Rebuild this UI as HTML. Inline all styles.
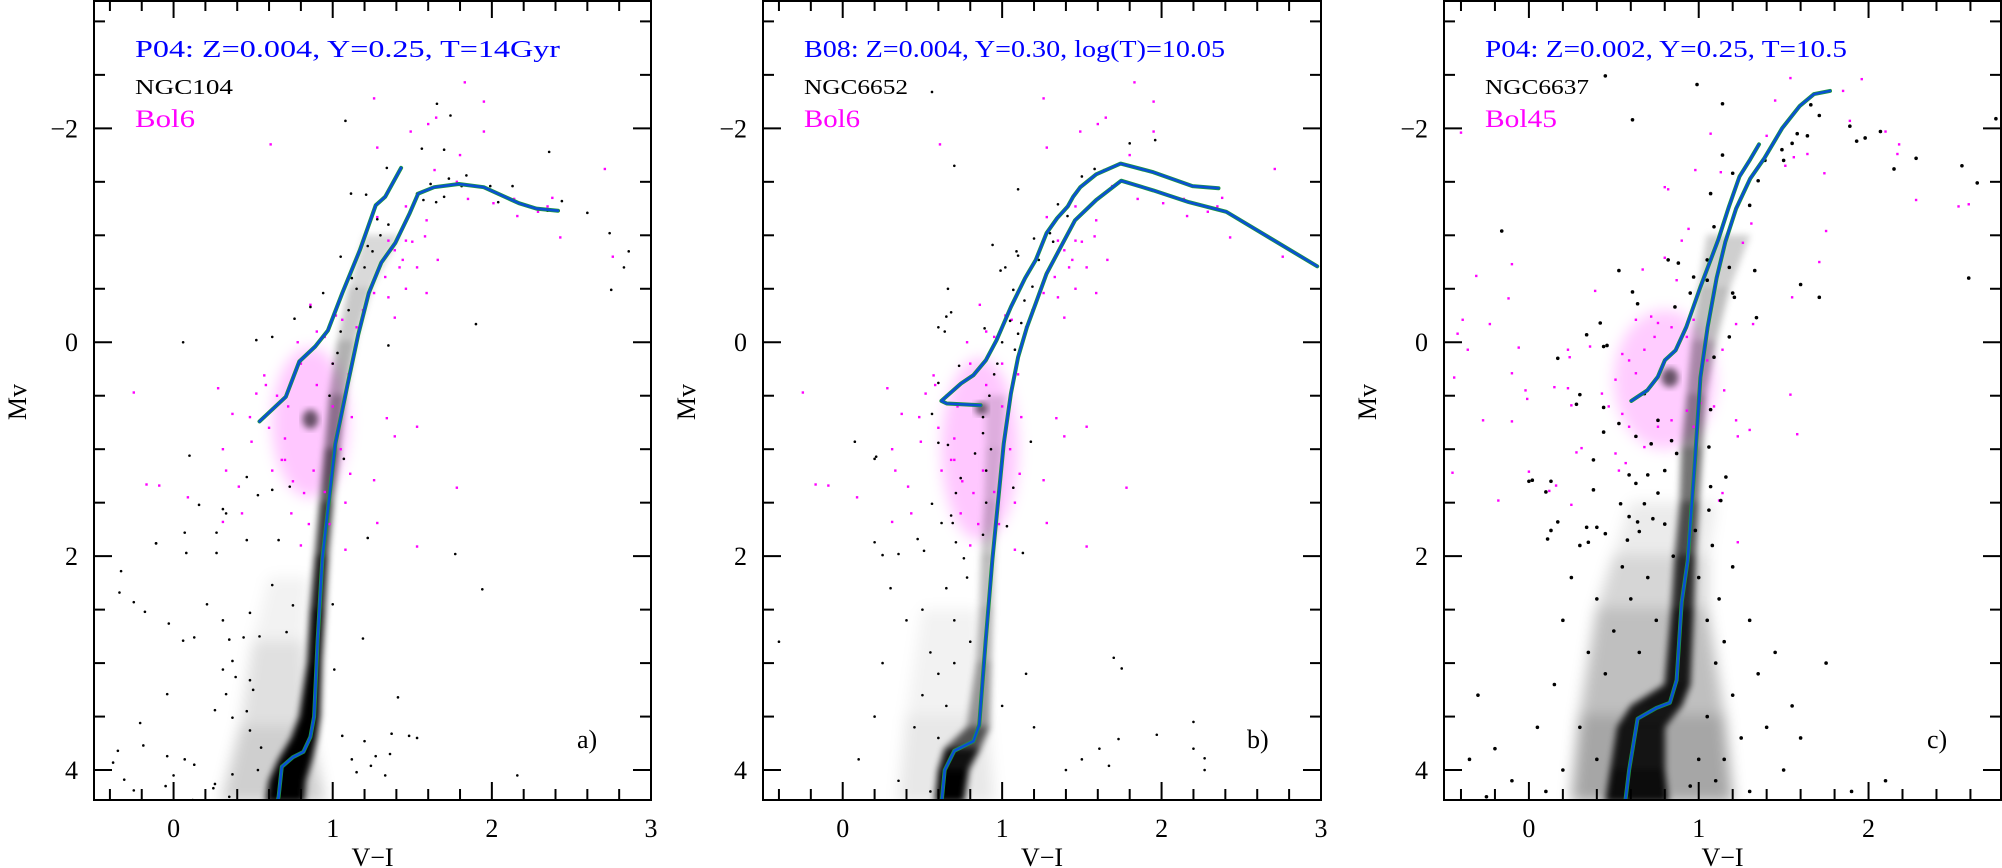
<!DOCTYPE html>
<html><head><meta charset="utf-8"><style>
html,body{margin:0;padding:0;background:#fff;}
svg{display:block;font-family:"Liberation Serif","DejaVu Serif",serif;}
</style></head><body>
<svg id="fig" width="2002" height="868" viewBox="0 0 2002 868" xmlns="http://www.w3.org/2000/svg">
<defs><filter id="soft" x="-20%" y="-20%" width="140%" height="140%"><feGaussianBlur stdDeviation="3.5"/></filter>
<filter id="soft2" x="-20%" y="-20%" width="140%" height="140%"><feGaussianBlur stdDeviation="7"/></filter></defs>
</svg>
<script>
// ---------- DATA (V-I colour, Mv) ----------
const isoA_upper=[[0.54,0.74],[0.705,0.51],[0.79,0.18],[0.89,0.04],[0.97,-0.11],[1.06,-0.46],[1.17,-0.86],[1.27,-1.28],[1.33,-1.36],[1.43,-1.63]];
const isoA_rgb=[[0.655,4.28],[0.66,4.25],[0.68,3.97],[0.75,3.88],[0.816,3.83],[0.86,3.69],[0.883,3.5],[0.905,2.79],[0.935,2.02],[1.016,0.95],[1.094,0.39],[1.16,-0.07],[1.227,-0.46],[1.305,-0.745],[1.394,-0.93],[1.482,-1.2],[1.537,-1.39],[1.637,-1.45],[1.793,-1.48],[1.949,-1.45],[2.17,-1.3],[2.28,-1.25],[2.415,-1.23]];
const isoB_upper=[[0.865,0.59],[0.652,0.573],[0.619,0.548],[0.742,0.386],[0.82,0.308],[0.898,0.168],[0.965,-0.02],[1.055,-0.33],[1.144,-0.6],[1.211,-0.77],[1.278,-1.02],[1.345,-1.16],[1.412,-1.27],[1.445,-1.36],[1.49,-1.45],[1.59,-1.57],[1.743,-1.67],[1.948,-1.59],[2.194,-1.46],[2.357,-1.44]];
const isoB_rgb=[[0.62,4.3],[0.64,4.0],[0.7,3.82],[0.82,3.73],[0.856,3.58],[0.896,2.8],[0.938,2.04],[1.01,0.95],[1.055,0.48],[1.1,0.14],[1.155,-0.14],[1.21,-0.36],[1.278,-0.64],[1.367,-0.89],[1.457,-1.14],[1.59,-1.33],[1.747,-1.51],[1.948,-1.42],[2.17,-1.31],[2.406,-1.22],[2.663,-0.99],[2.976,-0.71]];
const isoC_upper=[[0.603,0.548],[0.697,0.449],[0.759,0.324],[0.801,0.168],[0.864,0.075],[0.927,-0.143],[1.01,-0.517],[1.115,-0.96],[1.178,-1.27],[1.24,-1.55],[1.303,-1.71],[1.355,-1.85]];
const isoC_rgb=[[0.567,4.3],[0.59,4.0],[0.64,3.52],[0.75,3.42],[0.83,3.37],[0.87,3.16],[0.9,2.43],[0.935,2.04],[0.978,1.1],[1.01,0.33],[1.052,-0.14],[1.105,-0.6],[1.157,-0.94],[1.22,-1.25],[1.303,-1.53],[1.386,-1.72],[1.491,-2.0],[1.595,-2.21],[1.679,-2.32],[1.773,-2.35]];

// dense sequence bands: [Mv, left colour, right colour, density]
const ridgeA=[[4.3,0.58,0.82,1],[4.1,0.6,0.83,1],[3.9,0.66,0.87,1],[3.7,0.74,0.9,1],[3.5,0.79,0.92,1],[3.0,0.84,0.93,1],[2.5,0.86,0.95,0.95],[2.0,0.89,0.97,0.85],[1.5,0.92,1.0,0.7],[1.0,0.95,1.04,0.55],[0.5,0.98,1.08,0.35],[0.0,1.03,1.14,0.25],[-0.5,1.1,1.24,0.18],[-1.0,1.2,1.42,0.12]];
const hazeA=[[4.3,0.3,0.95,0.22],[3.6,0.42,0.85,0.16],[2.8,0.5,0.82,0.07],[2.2,0.6,0.85,0.02]];
const ridgeB=[[4.3,0.58,0.76,1],[4.0,0.6,0.79,1],[3.8,0.64,0.86,0.85],[3.6,0.78,0.92,0.45],[3.0,0.84,0.93,0.32],[2.5,0.86,0.94,0.28],[2.0,0.87,0.95,0.24],[1.5,0.89,0.97,0.2],[1.0,0.9,1.0,0.15],[0.5,0.9,1.02,0.1]];
const hazeB=[[4.3,0.35,0.95,0.1],[3.5,0.4,0.9,0.07],[2.5,0.5,0.85,0.03]];
const ridgeC=[[4.3,0.45,0.82,0.95],[4.0,0.48,0.8,0.9],[3.6,0.52,0.8,0.85],[3.4,0.6,0.9,0.9],[3.2,0.8,0.95,0.9],[2.5,0.84,0.97,0.85],[2.0,0.86,0.98,0.75],[1.5,0.89,1.0,0.6],[1.0,0.9,1.02,0.5],[0.5,0.93,1.04,0.4],[0.0,0.96,1.1,0.28],[-0.5,1.0,1.18,0.22],[-1.0,1.05,1.3,0.16]];
const hazeC=[[4.3,0.25,1.2,0.4],[3.5,0.3,1.15,0.3],[2.5,0.4,1.05,0.2],[2.0,0.5,1.05,0.12],[1.5,0.6,1.1,0.05]];

// clumps: [colour, Mv, radius colour, radius Mv, opacity]
const clumpA=[[0.86,0.72,0.05,0.09,0.6]];
const clumpB=[[0.87,0.62,0.04,0.06,0.6]];
const clumpC=[[0.83,0.33,0.05,0.09,0.6]];
const cloudA=[[0.86,0.75,0.24,0.7,0.22]];
const cloudB=[[0.86,1.0,0.24,0.85,0.22]];
const cloudC=[[0.8,0.35,0.3,0.65,0.2]];

const starsA=[[0.06,0.0],[1.08,-2.07],[1.655,-2.23],[1.74,-2.12],[1.56,-1.81],[1.70,-1.80],[2.36,-1.78],[1.34,-1.63],[1.115,-1.39],[1.21,-1.38],[1.615,-1.48],[1.73,-1.53],[1.84,-1.56],[1.99,-1.46],[2.13,-1.46],[2.35,-1.23],[2.42,-1.23],[2.44,-1.32],[2.6,-1.21],[2.74,-1.02],[2.86,-0.85],[2.83,-0.7],[2.75,-0.49],[1.9,-0.17],[1.53,-1.39],[1.57,-1.33],[1.65,-1.31],[1.70,-1.36],[1.81,-1.46],[2.04,-1.31],[1.05,-0.80],[0.94,-0.46],[0.76,-0.22],[0.62,-0.05],[0.52,-0.02],[0.86,-0.33],[1.35,0.03],[0.1,1.06],[0.16,1.52],[0.46,1.26],[0.53,1.43],[0.62,1.38],[0.31,1.56],[0.33,1.6],[0.73,1.35],[-0.11,1.88],[0.08,1.97],[0.27,1.97],[0.46,1.85],[0.66,1.85],[1.22,1.83],[1.07,1.09],
[-0.11,1.88],[-0.33,2.14],[-0.34,2.34],[-0.25,2.43],[-0.18,2.52],[-0.03,2.63],[0.07,1.78],[0.27,1.78],[0.06,2.79],[0.13,2.76],[-0.04,3.29],[-0.21,3.56],[-0.19,3.77],[-0.35,3.82],[-0.38,3.93],[-0.31,4.09],[-0.25,4.19],[-0.04,3.87],[0.07,3.9],[0.13,3.95],[0.0,4.05],[-0.05,4.15],[0.25,4.17],[1.19,2.77],[1.41,3.32],[1.37,3.66],[1.48,3.68],[1.2,3.73],[1.27,3.87],[1.36,3.85],[1.77,1.98],[1.94,2.31],[2.16,4.05],[1.53,3.7],[0.21,2.45],[0.31,2.6],[0.35,2.78],[0.44,2.76],[0.48,2.53],[0.54,2.75],[0.37,2.98],[0.31,3.06],[0.39,3.13],[0.48,3.16],[0.5,3.25],[0.33,3.29],[0.26,3.44],[0.37,3.51],[0.46,3.45],[0.48,3.63],[0.55,3.79],[0.53,4.0],[0.37,4.04],[0.26,4.13],[0.12,4.28],[0.35,4.25],[0.62,2.27],[0.75,2.46],[0.71,2.71],[1.0,2.45],[1.01,3.06],[1.06,3.68],[1.12,3.9],[1.15,4.02],[1.24,3.96],[1.33,4.05],
[1.0,0.2],[1.05,-0.1],[1.1,-0.3],[1.15,-0.5],[1.2,-0.7],[1.25,-0.85],[1.3,-1.0],[1.35,-1.1],[1.12,-0.6],[1.22,-0.9],[1.28,-1.15],[0.98,0.5],[1.03,0.1]];

const bol6=[[1.83,-2.43],[1.26,-2.28],[1.95,-2.25],[1.60,-2.04],[1.65,-2.10],[1.49,-1.97],[1.95,-1.97],[0.61,-1.85],[1.28,-1.82],[1.80,-1.75],[1.64,-1.61],[2.71,-1.62],[1.69,-1.46],[1.78,-1.50],[1.85,-1.34],[2.01,-1.30],[2.14,-1.34],[2.16,-1.18],[2.29,-1.22],[2.35,-1.27],[2.38,-1.35],[2.43,-0.98],[2.76,-0.80],[1.66,-0.77],[1.53,-0.70],[1.59,-0.46],[1.46,-0.50],[1.39,-0.23],[-0.25,0.47],[0.28,0.43],[0.37,0.67],[0.49,0.93],[0.31,1.0],[0.33,1.2],[-0.17,1.33],[-0.09,1.34],[0.09,1.45],[0.41,1.35],[0.43,1.6],[0.31,1.68],[1.28,1.69],[1.26,1.29],[1.78,1.36],[1.53,0.79],[1.39,0.88],[1.34,0.71],[1.53,1.91],[1.08,1.94],[0.48,0.70],[0.52,0.48],[0.57,0.31],[0.70,1.10],[0.82,1.41],[1.11,1.23],
[1.28,-1.17],[1.35,-0.95],[1.39,-0.86],[1.46,-0.95],[1.50,-0.94],[1.44,-0.77],[1.33,-0.61],[1.26,-0.46],[1.19,-0.30],[1.15,-0.14],[1.06,-0.21],[0.95,-0.05],[0.86,-0.35],[1.35,-0.42],[1.42,-0.70],[1.58,-0.99],[1.59,-1.14],[1.46,-1.27],
[0.65,0.5],[0.7,0.9],[0.75,1.3],[0.8,0.2],[0.9,0.4],[1.0,0.6],[1.05,1.0],[0.95,1.4],[0.85,1.7],[0.6,0.8],[0.68,1.1],[1.1,0.3],[0.78,0.0],[0.9,-0.1],[1.0,0.2],[0.72,0.6],[0.62,1.2],[0.88,1.2],[1.12,0.7],[0.98,1.7],[0.74,1.6],[0.58,0.4],[1.02,-0.25],[0.8,1.9],[1.08,1.5]];

const starsB=[[0.56,-2.34],[1.80,-1.86],[1.96,-1.89],[0.70,-1.65],[1.10,-1.43],[1.50,-1.55],[1.58,-1.62],[1.35,-1.29],[1.41,-1.18],[1.30,-1.02],[1.32,-0.94],[1.20,-0.97],[1.09,-0.85],[1.10,-0.81],[0.94,-0.91],[1.02,-0.70],[0.99,-0.67],[0.66,-0.50],[0.68,-0.28],[0.65,-0.24],[0.60,-0.14],[0.64,-0.10],[1.07,-0.49],[1.19,-0.52],[1.14,-0.39],[1.23,-0.77],[1.12,-0.18],[1.10,-0.08],[1.08,0.07],[0.89,-0.13],[0.73,0.22],[0.60,0.38],[0.56,0.67],[0.60,0.94],[0.66,0.96],[0.076,0.93],[0.21,1.07],[0.20,1.09],[0.56,1.51],[0.62,1.69],[0.68,1.62],[0.69,1.69],[0.20,1.87],[0.25,1.99],[0.35,1.98],[0.47,1.84],[0.51,1.95],[0.71,1.87],[0.76,2.02],[1.13,1.97],[1.03,1.72],[1.07,1.36],[1.18,0.93],[0.88,0.85],[0.83,1.04],[0.74,1.27],[0.71,1.41],
[0.95,0.3],[1.0,0.0],[1.05,-0.2],[0.92,0.5],[0.88,0.7],[0.9,1.2],[0.9,1.5],[0.88,1.8],[0.93,1.0],[0.97,0.2],
[0.3,2.3],[0.4,2.6],[0.5,2.5],[0.55,2.9],[0.6,3.1],[0.5,3.3],[0.65,3.4],[0.7,3.0],[0.45,3.6],[0.6,3.7],[0.2,3.5],[0.1,3.9],[0.35,4.1],[0.55,4.2],[0.7,2.6],[0.78,2.2],[0.8,2.8],[1.15,3.1],[1.2,3.6],[1.4,4.0],[1.5,3.9],[2.2,3.55],[2.2,3.8],[-0.4,2.8],[1.0,3.4],[0.25,3.0],[0.65,2.3],
[1.70,2.95],[1.75,3.05],[1.73,3.71],[1.97,3.67],[2.27,3.89],[2.27,4.0],[1.67,3.96],[1.61,3.8]];

const starsC=[[0.45,-2.49],[0.99,-2.41],[1.14,-2.23],[0.61,-2.08],[1.66,-2.22],[1.71,-2.12],[1.89,-2.02],[1.93,-1.88],[1.98,-1.91],[2.07,-1.97],[2.28,-1.72],[2.15,-1.62],[2.55,-1.65],[2.64,-1.49],[2.75,-2.09],[2.59,-0.60],[1.60,-0.54],[1.71,-0.42],[1.33,-0.67],[1.34,-0.23],[1.21,-0.42],[-0.16,-1.04],[0.53,-0.67],[0.61,-0.47],[0.64,-0.36],[0.42,-0.18],[0.34,-0.07],[0.17,0.15],[0.44,0.04],[0.46,0.03],[0.30,0.49],[0.28,0.58],[0.44,0.61],[0.44,0.84],[0.38,1.10],[0.02,1.29],[0.13,1.30],[0.38,1.38],[0.17,1.68],[0.13,1.76],[0.11,1.84],[0.34,1.73],[0.40,1.73],[0.35,1.87],[0.45,1.79],[0.58,1.85],[0.65,1.77],[0.64,1.68],[0.59,1.63],[0.54,1.51],[0.68,1.51],[0.73,1.65],[0.76,1.41],[0.70,1.24],[0.63,1.32],[0.59,1.24],[1.06,1.57],[1.13,1.48],[1.16,1.26],[1.07,1.35],[0.98,1.76],[0.80,1.20],
[1.50,-1.70],[1.55,-1.86],[1.58,-1.95],[1.64,-1.93],[1.49,-1.80],[1.39,-1.70],[1.35,-1.51],[1.30,-1.28],[1.14,-1.75],[1.20,-1.58],[1.07,-1.39],[1.09,-1.08],[1.05,-0.77],[0.97,-0.61],[0.95,-0.46],[0.86,-0.33],[0.82,-0.77],[0.88,-0.74],[1.05,-0.58],[1.18,-0.70],[1.20,-0.46],[1.18,-0.05],[1.09,0.14],[1.07,0.63],[1.06,0.98],[0.84,0.92],[0.87,1.04],[0.76,0.73],[0.72,0.95],[0.68,0.48],[0.63,0.88],[0.53,0.76],
[1.05,2.6],[1.1,3.0],[1.2,3.3],[1.25,3.7],[1.15,3.9],[1.35,3.1],[1.4,3.6],[1.5,4.0],[1.3,4.2],[1.05,3.5],[1.1,4.1],[1.55,3.4],[1.6,3.7],[1.0,2.2],[1.12,2.4],[-0.2,3.8],[-0.3,3.3],[-0.35,3.9],[-0.1,4.1],[0.1,4.2],[-0.25,4.25],[0.05,3.6],[0.15,3.2],[0.2,2.6],[0.25,2.2],[0.1,1.4],[0.0,1.3],[0.3,1.9],[1.9,4.2],[2.1,4.1],[1.75,3.0],[0.95,4.15],[1.0,3.9],
[0.35,2.9],[0.45,3.1],[0.5,2.7],[0.6,2.4],[0.55,2.1],[0.4,2.4],[0.3,3.6],[0.2,4.0],[0.4,3.9],[0.65,2.9],[0.75,2.6],[0.7,2.2],[1.15,2.8],[1.2,2.1],[1.3,2.6],[1.45,2.9],[1.08,1.9],[0.8,1.7],[0.85,2.0]];

const bol45=[[1.54,-2.47],[1.96,-2.46],[1.85,-2.35],[1.45,-2.26],[1.89,-2.07],[1.89,-2.02],[2.07,-1.97],[2.10,-1.97],[2.18,-1.85],[2.17,-1.76],[1.07,-1.95],[-0.40,-1.96],[1.40,-1.93],[1.56,-1.73],[1.64,-1.76],[1.51,-1.65],[1.74,-1.58],[0.98,-1.61],[1.13,-1.59],[0.80,-1.45],[0.82,-1.43],[2.28,-1.33],[2.53,-1.27],[2.59,-1.29],[1.75,-1.04],[1.31,-1.11],[1.26,-0.93],[0.94,-1.06],[0.90,-0.95],[0.67,-0.68],[0.87,-0.58],[0.80,-0.79],[1.71,-0.75],[1.55,-0.42],[1.32,-0.17],[1.22,-0.17],[0.39,-0.48],[-0.12,-0.41],[-0.31,-0.62],[-0.10,-0.73],[-0.39,-0.21],[-0.42,-0.08],[-0.36,0.07],[-0.23,-0.17],[-0.06,0.05],[0.23,0.07],[0.24,0.14],[0.36,0.04],[-0.44,0.33],[-0.02,0.45],[-0.01,0.53],[-0.10,0.29],[0.15,0.42],[0.23,0.43],[0.25,0.59],[-0.27,0.73],[-0.10,0.74],[1.54,0.49],[1.58,0.86],[1.30,0.82],[1.23,0.88],[1.22,0.73],[1.15,0.45],[0.28,1.03],[0.31,0.99],[-0.45,1.22],[-0.18,1.48],[0.00,1.21],[0.12,1.39],[0.16,1.34],[0.25,1.52],[1.23,1.87],[1.14,1.41],[1.12,1.48],[0.51,1.04],[0.57,1.13],[0.53,1.20],[0.59,0.79],[0.68,0.98],[0.76,0.79],[0.84,0.73],[0.97,0.79],[1.01,0.57],[1.09,0.60],[0.93,0.64],[0.55,0.11],[0.59,0.17],[0.63,0.29],[0.68,0.07],[0.74,-0.05],[0.76,-0.18],[0.84,-0.14],[0.93,-0.05],[0.97,-0.21],[1.05,0.17],[1.14,0.07],[0.63,-0.21],[0.72,-0.24],[0.51,0.35],[0.43,0.48],[0.47,0.60],[0.55,0.67]];

const yTickLabels=[-2,0,2,4];
const xTickLabelsAB=[0,1,2,3];
const xTickLabelsC=[0,1,2];

// ---------- DRAWING ----------
const NS='http://www.w3.org/2000/svg';
const svg=document.getElementById('fig');
const Y_TOP=0,Y_BOT=800,MV_MIN=-3.2,MV_MAX=4.28;
function mk(tag,attrs,parent){const e=document.createElementNS(NS,tag);for(const k in attrs)e.setAttribute(k,attrs[k]);(parent||svg).appendChild(e);return e;}

function panel(cfg){
  const g=mk('g',{});
  
  
  const xs=v=>cfg.L+(v-cfg.xmin)/(cfg.xmax-cfg.xmin)*(cfg.R-cfg.L);
  const ys=v=>Y_TOP+(v-MV_MIN)/(MV_MAX-MV_MIN)*(Y_BOT-Y_TOP);
  const cid='clip-'+cfg.id;
  const defs=mk('defs',{},g);
  const cp=mk('clipPath',{id:cid},defs);
  mk('rect',{x:cfg.L,y:0,width:cfg.R-cfg.L,height:Y_BOT},cp);
  const plot=mk('g',{'clip-path':'url(#'+cid+')'},g);
  
  
  function bands(arr,name,filt){
    const bg=mk('g',{filter:'url(#'+filt+')'},plot);
    
    
    for(let i=0;i<arr.length-1;i++){
      const a=arr[i],b=arr[i+1];
      const p=mk('polygon',{points:[[xs(a[1]),ys(a[0])],[xs(a[2]),ys(a[0])],[xs(b[2]),ys(b[0])],[xs(b[1]),ys(b[0])]].map(q=>q.join(',')).join(' '),fill:'#000','fill-opacity':((a[3]+b[3])/2).toFixed(2),stroke:'#000','stroke-opacity':((a[3]+b[3])/2).toFixed(2),'stroke-width':0.5},bg);
      
      
    }
  }
  bands(cfg.haze,'field-haze','soft2');
  for(const c of cfg.cloud){
    const e=mk('ellipse',{cx:xs(c[0]),cy:ys(c[1]),rx:xs(c[0]+c[2])-xs(c[0]),ry:ys(c[1]+c[3])-ys(c[1]),fill:'#ff00ff','fill-opacity':c[4],filter:'url(#soft2)'},plot);
    
    
  }
  bands(cfg.ridge,'main-sequence-band','soft');
  for(const s of cfg.comp){
    const r=mk('rect',{x:xs(s[0])-1.2,y:ys(s[1])-1.2,width:2.4,height:2.4,fill:'#ff00ff'},plot);
    
    
  }
  for(const s of cfg.stars){
    const r=mk('circle',{cx:xs(s[0]),cy:ys(s[1]),r:cfg.dot,fill:'#000'},plot);
    
    
  }
  for(const c of cfg.clump){
    const e=mk('ellipse',{cx:xs(c[0]),cy:ys(c[1]),rx:xs(c[0]+c[2])-xs(c[0]),ry:ys(c[1]+c[3])-ys(c[1]),fill:'#000','fill-opacity':c[4],filter:'url(#soft)'},plot);
    
    
  }
  for(const [iso,nm] of [[cfg.iso1,'isochrone-rgb'],[cfg.iso2,'isochrone-agb']]){
    const d='M'+iso.map(p=>xs(p[0]).toFixed(1)+','+ys(p[1]).toFixed(1)).join(' L');
    const l1=mk('path',{d:d,fill:'none',stroke:'#1e9a3a','stroke-width':4,'stroke-linejoin':'round','stroke-linecap':'round'},plot);
    
    
    const l2=mk('path',{d:d,fill:'none',stroke:'#0a50d2','stroke-width':2.6,'stroke-linejoin':'round','stroke-linecap':'round'},plot);
    
    
  }
  const fr=mk('rect',{x:cfg.L,y:1,width:cfg.R-cfg.L,height:Y_BOT-1,fill:'none',stroke:'#000','stroke-width':2},g);
  
  
  const ax=mk('g',{stroke:'#000','stroke-width':2},g);
  
  
  for(let k=Math.ceil(cfg.xmin/0.2-1e-6);k*0.2<=cfg.xmax+1e-6;k++){
    const v=k*0.2,major=Math.abs(v-Math.round(v))<1e-6,len=major?18:11,x=xs(v);
    mk('line',{x1:x,y1:Y_BOT,x2:x,y2:Y_BOT-len},ax);
    mk('line',{x1:x,y1:0,x2:x,y2:len},ax);
  }
  const ay=mk('g',{stroke:'#000','stroke-width':2},g);
  
  
  for(let k=Math.ceil(MV_MIN/0.5);k*0.5<=MV_MAX;k++){
    const v=k*0.5,major=(Math.abs(v)%2)<1e-6,len=major?18:11,y=ys(v);
    mk('line',{x1:cfg.L,y1:y,x2:cfg.L+len,y2:y},ay);
    mk('line',{x1:cfg.R,y1:y,x2:cfg.R-len,y2:y},ay);
  }
  for(const v of cfg.xlabels){
    const t=mk('text',{x:xs(v),y:837,'font-size':26,'text-anchor':'middle'},g);
    t.textContent=String(v);
    
    
  }
  for(const v of yTickLabels){
    const t=mk('text',{x:cfg.L-16,y:ys(v)+9,'font-size':26,'text-anchor':'end'},g);
    t.textContent=(v<0?'\u2212':'')+Math.abs(v);
    
    
  }
  const xt=mk('text',{x:(cfg.L+cfg.R)/2,y:866,'font-size':26,'text-anchor':'middle'},g);
  xt.textContent='V\u2212I';
  
  
  const yt=mk('text',{x:0,y:0,'font-size':26,'text-anchor':'middle',transform:'translate('+(cfg.L-68)+',402) rotate(-90)'},g);
  yt.textContent='Mv';
  
  
  const t1=mk('text',{x:cfg.L+41,y:57,'font-size':24,fill:'#0000ff',textLength:cfg.t1w,lengthAdjust:'spacingAndGlyphs'},g);
  t1.textContent=cfg.t1;
  
  
  const t2=mk('text',{x:cfg.L+41,y:94,'font-size':21,fill:'#000',textLength:cfg.t2w,lengthAdjust:'spacingAndGlyphs'},g);
  t2.textContent=cfg.t2;
  
  
  const t3=mk('text',{x:cfg.L+41,y:127,'font-size':25,fill:'#ff00ff',textLength:cfg.t3w,lengthAdjust:'spacingAndGlyphs'},g);
  t3.textContent=cfg.t3;
  
  
  const pl=mk('text',{x:cfg.R-74,y:748,'font-size':26},g);
  pl.textContent=cfg.tag;
  
  
}

panel({id:'a',name:'panel-a',L:94,R:651,xmin:-0.5,xmax:3,xlabels:xTickLabelsAB,ridge:ridgeA,haze:hazeA,cloud:cloudA,clump:clumpA,comp:bol6,stars:starsA,dot:1.3,iso1:isoA_rgb,iso2:isoA_upper,
  t1:'P04:  Z=0.004,  Y=0.25,  T=14Gyr',t1w:425,t2:'NGC104',t2w:98,t3:'Bol6',t3w:60,tag:'a)'});
panel({id:'b',name:'panel-b',L:763,R:1321,xmin:-0.5,xmax:3,xlabels:xTickLabelsAB,ridge:ridgeB,haze:hazeB,cloud:cloudB,clump:clumpB,comp:bol6,stars:starsB,dot:1.3,iso1:isoB_rgb,iso2:isoB_upper,
  t1:'B08:  Z=0.004,  Y=0.30,  log(T)=10.05',t1w:421,t2:'NGC6652',t2w:104,t3:'Bol6',t3w:56,tag:'b)'});
panel({id:'c',name:'panel-c',L:1444,R:2001,xmin:-0.5,xmax:2.78,xlabels:xTickLabelsC,ridge:ridgeC,haze:hazeC,cloud:cloudC,clump:clumpC,comp:bol45,stars:starsC,dot:1.8,iso1:isoC_rgb,iso2:isoC_upper,
  t1:'P04:  Z=0.002,  Y=0.25,  T=10.5',t1w:362,t2:'NGC6637',t2w:104,t3:'Bol45',t3w:72,tag:'c)'});
</script>
</body></html>
